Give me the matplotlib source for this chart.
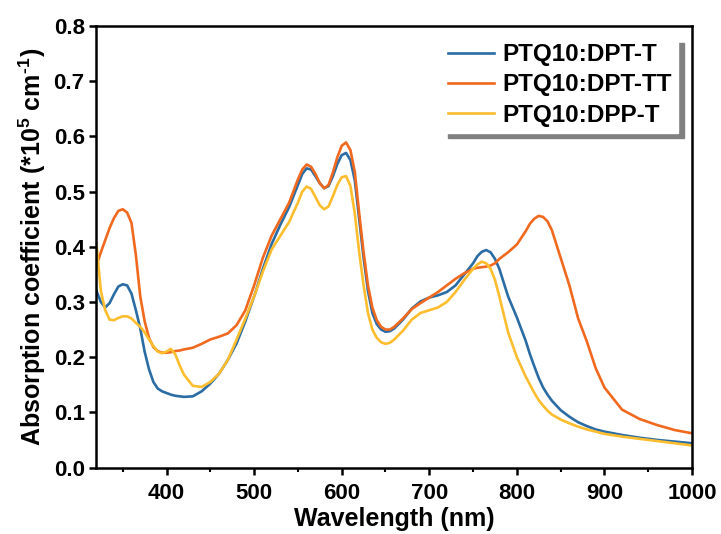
import matplotlib.pyplot as plt
from matplotlib.ticker import MultipleLocator

plt.rcParams['font.family'] = ['Liberation Sans', 'DejaVu Sans']
plt.rcParams['font.weight'] = 'bold'
plt.rcParams['mathtext.fontset'] = 'custom'
plt.rcParams['mathtext.rm'] = 'Liberation Sans:bold'
plt.rcParams['mathtext.bf'] = 'Liberation Sans:bold'
plt.rcParams['mathtext.default'] = 'bf'

wl = [320, 325, 330, 335, 340, 345, 350, 355, 360, 365, 370, 375, 380, 385, 390, 395,
      400, 405, 410, 415, 420, 430, 440, 450, 460, 470, 480, 490, 500, 510, 520, 530,
      540, 550, 555, 560, 565, 570, 575, 580, 585, 590, 595, 600, 605, 610, 615, 620,
      625, 630, 635, 640, 645, 650, 655, 660, 670, 680, 690, 700, 710, 720, 730, 740,
      750, 755, 760, 765, 770, 775, 780, 790, 800, 810, 815, 820, 825, 830, 835, 840,
      850, 860, 870, 880, 890, 900, 920, 940, 960, 980, 1000]

dpt_t = [0.320, 0.300, 0.290, 0.298, 0.314, 0.328, 0.332, 0.330, 0.315, 0.285, 0.252, 0.210,
         0.178, 0.155, 0.143, 0.138, 0.135, 0.132, 0.130, 0.129, 0.128, 0.129, 0.138, 0.152,
         0.170, 0.195, 0.225, 0.265, 0.310, 0.360, 0.405, 0.440, 0.472, 0.512, 0.532, 0.542,
         0.540, 0.528, 0.515, 0.506, 0.510, 0.528, 0.550, 0.566, 0.570, 0.557, 0.520, 0.450,
         0.380, 0.320, 0.280, 0.260, 0.250, 0.246, 0.247, 0.252, 0.268, 0.288, 0.301, 0.308,
         0.312, 0.318, 0.330, 0.350, 0.370, 0.383, 0.391, 0.394, 0.390, 0.378, 0.360, 0.310,
         0.272, 0.230, 0.205, 0.183, 0.162, 0.145, 0.132, 0.121, 0.104, 0.092, 0.082, 0.075,
         0.069, 0.065, 0.059, 0.054, 0.050, 0.047, 0.044]

dpt_tt = [0.366, 0.390, 0.412, 0.434, 0.452, 0.465, 0.468, 0.462, 0.443, 0.385, 0.310, 0.265,
          0.235, 0.218, 0.211, 0.208, 0.208, 0.209, 0.211, 0.212, 0.214, 0.217, 0.224, 0.232,
          0.237, 0.243, 0.258, 0.285, 0.330, 0.380, 0.420, 0.450, 0.480, 0.522, 0.540, 0.549,
          0.545, 0.532, 0.515, 0.506, 0.512, 0.535, 0.562, 0.583, 0.589, 0.575, 0.535, 0.460,
          0.390, 0.330, 0.290, 0.267, 0.255, 0.250, 0.250, 0.255, 0.270, 0.287, 0.298, 0.308,
          0.318, 0.330, 0.342, 0.352, 0.360, 0.362, 0.363, 0.364, 0.366, 0.370, 0.378, 0.390,
          0.404, 0.428, 0.442, 0.451, 0.456, 0.454, 0.446, 0.430, 0.380, 0.330, 0.270, 0.228,
          0.180, 0.145, 0.105, 0.088, 0.077, 0.068, 0.062]

dpp_t = [0.405, 0.320, 0.285, 0.268, 0.267, 0.271, 0.274, 0.274, 0.270, 0.262, 0.255, 0.245,
         0.232, 0.220, 0.210, 0.207, 0.210, 0.215, 0.205, 0.185, 0.168, 0.148, 0.146, 0.155,
         0.170, 0.195, 0.232, 0.270, 0.310, 0.355, 0.395, 0.420, 0.445, 0.480, 0.500, 0.509,
         0.505, 0.490, 0.475, 0.468, 0.473, 0.492, 0.512, 0.526, 0.528, 0.510, 0.460, 0.390,
         0.330, 0.280, 0.250, 0.235, 0.227, 0.224, 0.226, 0.232, 0.248, 0.268, 0.280, 0.285,
         0.290, 0.300, 0.318, 0.340, 0.360, 0.368, 0.373, 0.370, 0.360, 0.340, 0.310, 0.245,
         0.200, 0.165, 0.150, 0.135, 0.122, 0.112, 0.103, 0.096, 0.087, 0.080, 0.074, 0.069,
         0.065, 0.061, 0.056, 0.052, 0.048, 0.044, 0.040]

labels = ['PTQ10:DPT-T', 'PTQ10:DPT-TT', 'PTQ10:DPP-T']
colors = ['#2c6ca4', '#f0691f', '#fcbd2e']

fig = plt.figure(figsize=(7.21, 5.34), dpi=100)
ax = fig.add_axes([0.1338, 0.1245, 0.826, 0.8268])

for y, lab, c in zip([dpt_t, dpt_tt, dpp_t], labels, colors):
    ax.plot(wl, y, color=c, lw=1.9, label=lab, solid_joinstyle='round')

ax.set_xlim(320, 1000)
ax.set_ylim(0, 0.8)
ax.xaxis.set_major_locator(MultipleLocator(100))
ax.xaxis.set_minor_locator(MultipleLocator(50))
ax.yaxis.set_major_locator(MultipleLocator(0.1))
ax.yaxis.set_major_formatter(plt.FormatStrFormatter('%.1f'))

for s in ax.spines.values():
    s.set_linewidth(1.8)
ax.tick_params(which='major', direction='out', length=5, width=1.8, labelsize=16)
ax.tick_params(axis='x', which='major', pad=6)
ax.tick_params(which='minor', direction='out', length=3, width=1.5)
ax.tick_params(axis='y', which='minor', left=False)

ax.set_xlabel('Wavelength (nm)', fontsize=18, fontweight='bold', labelpad=2)
ax.set_ylabel('Absorption coefficient (*10$^5$ cm$^{\u2010}$$^1$)', fontsize=18,
              fontweight='bold', labelpad=4)

leg = ax.legend(loc='upper right', bbox_to_anchor=(0.977, 0.975), borderaxespad=0,
                frameon=True, fancybox=False, edgecolor='white', framealpha=1,
                shadow={'ox': 4, 'oy': -4, 'facecolor': '#808080', 'edgecolor': '#808080', 'alpha': 1},
                handlelength=1.9, handletextpad=0.35, labelspacing=0.3,
                borderpad=0.25, prop={'weight': 'bold', 'size': 17.5})

fig.savefig('out.png', dpi=100)
